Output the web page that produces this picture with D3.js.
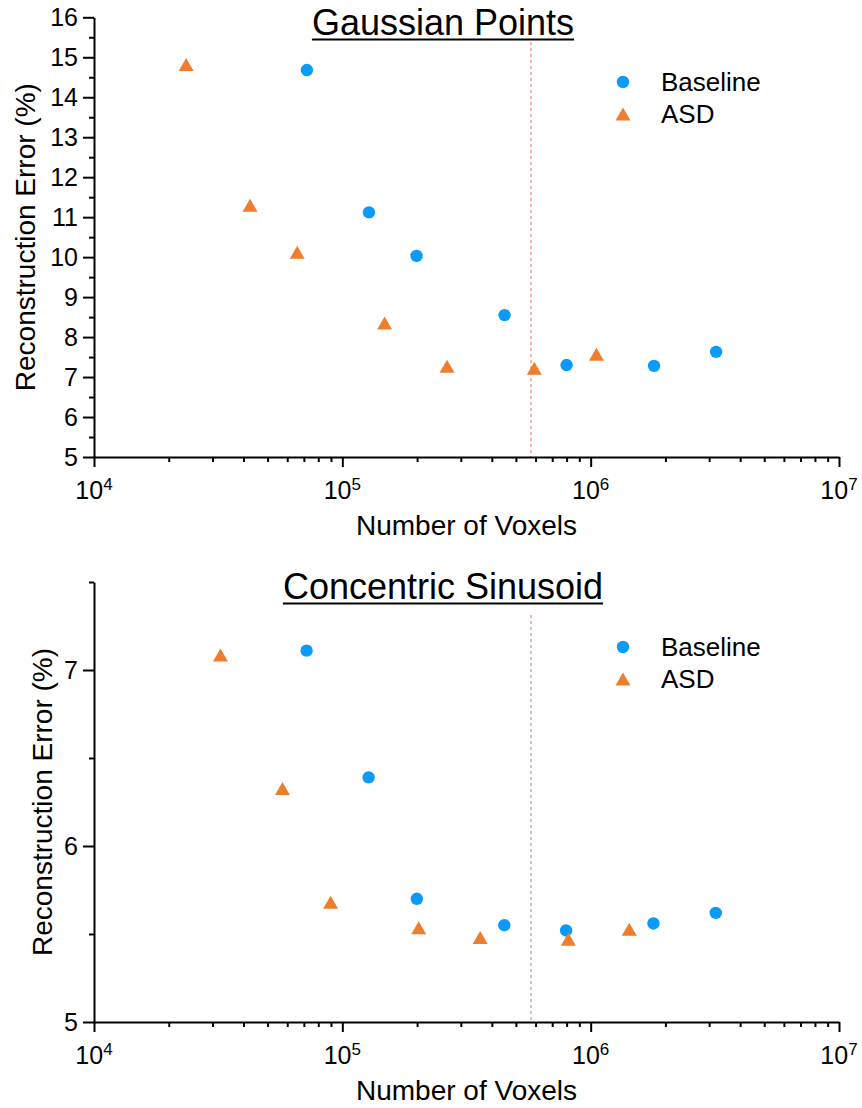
<!DOCTYPE html>
<html>
<head>
<meta charset="utf-8">
<script src="https://cdn.jsdelivr.net/npm/d3@7"></script>
<style>
  html, body { margin: 0; padding: 0; background: #fff; }
  svg { display: block; }
  text { font-family: "Liberation Sans", Arial, Helvetica, sans-serif; fill: #000; }
</style>
</head>
<body>
<svg id="chart" width="862" height="1108"></svg>
<script>
// ---------- Data ----------
const seriesNames = ["Baseline", "ASD"];
const xTickValues = [1e4, 1e5, 1e6, 1e7];
const xTickExponents = ["4", "5", "6", "7"];
const thresholdVoxels = 575000;

// Panel 1: Gaussian Points
const gpTitle = "Gaussian Points";
const gpYTicks = [5, 6, 7, 8, 9, 10, 11, 12, 13, 14, 15, 16];
const gpYMinor = [5.5, 6.5, 7.5, 8.5, 9.5, 10.5, 11.5, 12.5, 13.5, 14.5, 15.5];
const gpBaselineX = [72000, 128000, 199000, 450000, 800000, 1800000, 3200000];
const gpBaselineY = [14.68, 11.12, 10.03, 8.55, 7.30, 7.28, 7.63];
const gpAsdX = [23500, 42500, 65800, 148000, 264000, 593000, 1055000];
const gpAsdY = [14.82, 11.30, 10.12, 8.35, 7.27, 7.22, 7.57];

// Panel 2: Concentric Sinusoid
const csTitle = "Concentric Sinusoid";
const csYTicks = [5, 6, 7];
const csYMinor = [5.5, 6.5, 7.5];
const csBaselineX = [71800, 127600, 199500, 449000, 796000, 1790000, 3190000];
const csBaselineY = [7.11, 6.39, 5.70, 5.55, 5.52, 5.56, 5.62];
const csAsdX = [32300, 57400, 89700, 203000, 359000, 813000, 1430000];
const csAsdY = [7.085, 6.326, 5.68, 5.536, 5.48, 5.47, 5.527];

const xTitle = "Number of Voxels";
const yTitle = "Reconstruction Error (%)";

// ---------- Styles ----------
const BLUE = "#0A9BFA";
const ORANGE = "#EE7E2E";
const DASH = "#F4A3A3";

const svg = d3.select("#chart");

function triPath(cx, cy) {
  const w = 7.5, h = 6.5;
  return `M${cx - w},${cy + h}L${cx + w},${cy + h}L${cx},${cy - h}Z`;
}

function panel(cfg) {
  const g = svg.append("g");
  const x = d3.scaleLog().domain([1e4, 1e7]).range([94, 839]);
  const y = d3.scaleLinear().domain(cfg.yDomain).range([cfg.bottom, cfg.top]);

  // dashed threshold line
  g.append("line")
    .attr("x1", x(thresholdVoxels)).attr("x2", x(thresholdVoxels))
    .attr("y1", cfg.dashTop).attr("y2", cfg.bottom)
    .attr("stroke", DASH).attr("stroke-width", 1.6)
    .attr("stroke-dasharray", "3,3");

  // Y axis major
  const ya = g.append("g").attr("transform", "translate(94,0)")
    .call(d3.axisLeft(y).tickValues(cfg.yTicks).tickSize(11).tickSizeOuter(0)
      .tickPadding(5).tickFormat(d3.format("d")));
  ya.select(".domain").attr("stroke-width", 2).attr("stroke", "#000");
  ya.selectAll(".tick line").attr("stroke-width", 2).attr("stroke", "#000");
  ya.selectAll(".tick text").attr("font-size", 25)
    .attr("font-family", "Liberation Sans, Arial, sans-serif").attr("fill", "#000");
  // Y axis minor
  const ym = g.append("g").attr("transform", "translate(94,0)")
    .call(d3.axisLeft(y).tickValues(cfg.yMinor).tickSize(5).tickFormat(""));
  ym.select(".domain").remove();
  ym.selectAll(".tick line").attr("stroke-width", 2).attr("stroke", "#000");

  // X axis major
  const xa = g.append("g").attr("transform", `translate(0,${cfg.bottom})`)
    .call(d3.axisBottom(x).tickValues(xTickValues).tickSize(10).tickSizeOuter(0).tickFormat(""));
  xa.select(".domain").attr("stroke-width", 2).attr("stroke", "#000");
  xa.selectAll(".tick line").attr("stroke-width", 2).attr("stroke", "#000");
  // X axis minor
  const minor = [];
  for (let e = 4; e < 7; e++) for (let m = 2; m <= 9; m++) minor.push(m * Math.pow(10, e));
  const xm = g.append("g").attr("transform", `translate(0,${cfg.bottom})`)
    .call(d3.axisBottom(x).tickValues(minor).tickSize(5).tickFormat(""));
  xm.select(".domain").remove();
  xm.selectAll(".tick line").attr("stroke-width", 2).attr("stroke", "#000");

  // X tick labels with superscripts
  xTickValues.forEach((v, i) => {
    const t = g.append("text")
      .attr("x", x(v)).attr("y", cfg.bottom + 42)
      .attr("text-anchor", "middle").attr("font-size", 25);
    t.append("tspan").text("10");
    t.append("tspan").attr("font-size", 17).attr("dy", -9).text(xTickExponents[i]);
  });

  // Axis titles
  g.append("text")
    .attr("x", 466.5).attr("y", cfg.bottom + 78)
    .attr("text-anchor", "middle").attr("font-size", 28).text(xTitle);
  g.append("text")
    .attr("transform", `translate(${cfg.yTitleX},${(cfg.top + cfg.bottom) / 2}) rotate(-90)`)
    .attr("text-anchor", "middle").attr("font-size", 28).text(yTitle);

  // Title with underline
  const title = g.append("text")
    .attr("x", 443).attr("y", cfg.titleY)
    .attr("text-anchor", "middle").attr("font-size", 36).text(cfg.title);
  const tw = title.node().getComputedTextLength();
  g.append("line")
    .attr("x1", 443 - tw / 2).attr("x2", 443 + tw / 2)
    .attr("y1", cfg.titleY + 4.5).attr("y2", cfg.titleY + 4.5)
    .attr("stroke", "#000").attr("stroke-width", 2);

  // Markers
  const base = cfg.bx.map((v, i) => ({ x: v, y: cfg.by[i] }));
  const asd = cfg.ax.map((v, i) => ({ x: v, y: cfg.ay[i] }));
  g.selectAll("circle.base").data(base).enter().append("circle")
    .attr("class", "base")
    .attr("cx", d => x(d.x)).attr("cy", d => y(d.y)).attr("r", 6.2)
    .attr("fill", BLUE);
  g.selectAll("path.asd").data(asd).enter().append("path")
    .attr("class", "asd")
    .attr("d", d => triPath(x(d.x), y(d.y)))
    .attr("fill", ORANGE);

  // Legend
  const lg = g.append("g");
  lg.append("circle").attr("cx", 623).attr("cy", cfg.legendY).attr("r", 6.2).attr("fill", BLUE);
  lg.append("text").attr("x", 661).attr("y", cfg.legendY).attr("dy", "0.35em")
    .attr("font-size", 26).text(seriesNames[0]);
  lg.append("path").attr("d", triPath(623, cfg.legendY + 32)).attr("fill", ORANGE);
  lg.append("text").attr("x", 661).attr("y", cfg.legendY + 32).attr("dy", "0.35em")
    .attr("font-size", 26).text(seriesNames[1]);
}

panel({
  title: gpTitle, titleY: 35, top: 17.3, bottom: 457, dashTop: 42,
  yDomain: [5, 16], yTicks: gpYTicks, yMinor: gpYMinor, yTitleX: 35,
  bx: gpBaselineX, by: gpBaselineY, ax: gpAsdX, ay: gpAsdY, legendY: 82
});

panel({
  title: csTitle, titleY: 599, top: 582, bottom: 1022, dashTop: 615,
  yDomain: [5, 7.5], yTicks: csYTicks, yMinor: csYMinor, yTitleX: 52,
  bx: csBaselineX, by: csBaselineY, ax: csAsdX, ay: csAsdY, legendY: 647
});
</script>
</body>
</html>
